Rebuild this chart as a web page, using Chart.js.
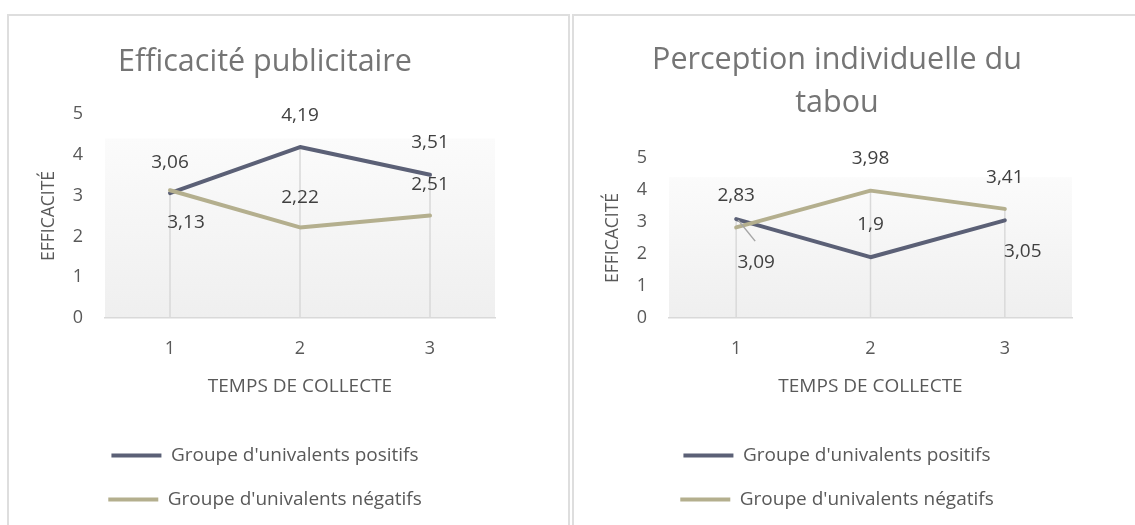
<!DOCTYPE html>
<html lang="fr">
<head>
<meta charset="utf-8">
<title>Efficacité publicitaire et perception du tabou</title>
<script src="https://cdn.jsdelivr.net/npm/chart.js@4.4.1/dist/chart.umd.min.js"></script>
<style>
  html, body { margin: 0; padding: 0; background: #fff; overflow: hidden; }
  body { width: 1135px; height: 525px; position: relative; }
  .cadre { position: absolute; top: 14px; height: 540px; border: 2px solid #dedede; box-sizing: border-box; }
  #cadre1 { left: 7px; width: 563px; }
  #cadre2 { left: 572px; width: 600px; }
  canvas { position: absolute; top: 15px; }
  #graphPub { left: 8px; }
  #graphTabou { left: 572px; }
</style>
</head>
<body>
<div class="cadre" id="cadre1"></div>
<div class="cadre" id="cadre2"></div>
<canvas id="graphPub" width="514" height="504"></canvas>
<canvas id="graphTabou" width="530" height="504"></canvas>
<script>
// Temps de collecte et bornes de l'axe
var categories = ['1', '2', '3'];
var yTicks = [0, 1, 2, 3, 4, 5];

// Efficacité publicitaire
var pubPositifs = [3.06, 4.19, 3.51];
var pubNegatifs = [3.13, 2.22, 2.51];

// Perception individuelle du tabou
var tabouPositifs = [3.09, 1.9, 3.05];
var tabouNegatifs = [2.83, 3.98, 3.41];

var nomPositifs = "Groupe d'univalents positifs";
var nomNegatifs = "Groupe d'univalents négatifs";

Chart.defaults.font.family = '"Open Sans", Lato, sans-serif';

// fond dégradé de la zone de tracé
var fondZone = {
    id: 'fondZone',
    beforeDraw: function (chart) {
        var a = chart.chartArea, ctx = chart.ctx;
        var haut = a.top + (a.bottom - a.top) * 0.12;
        var g = ctx.createLinearGradient(0, haut, 0, a.bottom);
        g.addColorStop(0, '#fbfbfb');
        g.addColorStop(1, '#efefef');
        ctx.save();
        ctx.fillStyle = g;
        ctx.fillRect(a.left, haut, a.right - a.left, a.bottom - haut);
        ctx.restore();
    }
};

// lignes de projection : du point le plus haut jusqu'à l'axe
var lignesProjection = {
    id: 'lignesProjection',
    beforeDatasetsDraw: function (chart) {
        var ctx = chart.ctx, sx = chart.scales.x, sy = chart.scales.y;
        ctx.save();
        ctx.strokeStyle = '#d9d9d9';
        ctx.lineWidth = 1.5;
        chart.data.labels.forEach(function (lab, i) {
            var haut = Math.max.apply(null, chart.data.datasets.map(function (d) { return d.data[i]; }));
            var px = sx.getPixelForValue(i);
            ctx.beginPath();
            ctx.moveTo(px, sy.getPixelForValue(haut));
            ctx.lineTo(px, sy.bottom);
            ctx.stroke();
        });
        ctx.restore();
    }
};

// étiquettes de valeurs (virgule décimale)
var etiquettes = {
    id: 'etiquettes',
    afterDatasetsDraw: function (chart, args, opts) {
        var ctx = chart.ctx;
        ctx.save();
        ctx.font = '19px "Open Sans", Lato, sans-serif';
        ctx.textAlign = 'center';
        ctx.textBaseline = 'middle';
        chart.data.datasets.forEach(function (ds, di) {
            var meta = chart.getDatasetMeta(di);
            meta.data.forEach(function (pt, i) {
                var p = opts.placement[di][i];
                var tx = pt.x + (p.dx || 0), ty = pt.y + p.dy;
                if (p.renvoi) {
                    ctx.strokeStyle = '#a6a6a6';
                    ctx.lineWidth = 1.5;
                    ctx.beginPath();
                    ctx.moveTo(pt.x + 2, pt.y + 1);
                    ctx.lineTo(tx - 1, ty - 21);
                    ctx.stroke();
                }
                ctx.fillStyle = '#404040';
                ctx.fillText(String(ds.data[i]).replace('.', ','), tx, ty);
            });
        });
        ctx.restore();
    }
};

function creerGraphique(id, titre, titrePad, positifs, negatifs, placement, margeDroite) {
    var ctx = document.getElementById(id).getContext('2d');
    return new Chart(ctx, {
        type: 'line',
        data: {
            labels: categories,
            datasets: [
                {
                    label: nomPositifs,
                    data: positifs,
                    borderColor: '#5b6076',
                    backgroundColor: '#5b6076',
                    borderWidth: 4,
                    borderCapStyle: 'round',
                    borderJoinStyle: 'round',
                    pointRadius: 0,
                    order: 1
                },
                {
                    label: nomNegatifs,
                    data: negatifs,
                    borderColor: '#b4af8e',
                    backgroundColor: '#b4af8e',
                    borderWidth: 4,
                    borderCapStyle: 'round',
                    borderJoinStyle: 'round',
                    pointRadius: 0,
                    order: 0
                }
            ]
        },
        options: {
            responsive: false,
            animation: false,
            layout: { padding: 0 },
            scales: {
                x: {
                    offset: true,
                    grid: { display: false, drawTicks: false },
                    border: { display: true, color: '#d9d9d9', width: 1.5 },
                    ticks: { color: '#595959', font: { size: 18 }, padding: 20 },
                    title: {
                        display: true,
                        text: 'TEMPS DE COLLECTE',
                        color: '#595959',
                        font: { size: 19 },
                        padding: { top: 0, bottom: 23 }
                    },
                    afterFit: function (s) { s.height = 103; }
                },
                y: {
                    min: yTicks[0],
                    max: yTicks[yTicks.length - 1],
                    grid: { display: false, drawTicks: false },
                    border: { display: false },
                    ticks: { stepSize: 1, color: '#595959', font: { size: 18 }, padding: 22 },
                    title: {
                        display: true,
                        text: 'EFFICACITÉ',
                        color: '#595959',
                        font: { size: 17.5 },
                        padding: { top: 31, bottom: 0 }
                    },
                    afterFit: function (s) { s.width = 97; }
                },
                marge: {
                    type: 'linear',
                    position: 'right',
                    display: true,
                    grid: { display: false, drawTicks: false },
                    border: { display: false },
                    ticks: { display: false },
                    afterFit: function (s) { s.width = margeDroite; }
                }
            },
            plugins: {
                title: {
                    display: true,
                    text: titre,
                    color: '#757575',
                    font: { size: 30.5, weight: 'normal', lineHeight: '43px' },
                    padding: titrePad
                },
                legend: {
                    position: 'bottom',
                    labels: {
                        usePointStyle: true,
                        pointStyle: 'line',
                        pointStyleWidth: 50,
                        color: '#595959',
                        font: { size: 19 },
                        padding: 25,
                        sort: function (a, b) { return a.datasetIndex - b.datasetIndex; }
                    }
                },
                tooltip: { enabled: false },
                etiquettes: { placement: placement }
            }
        },
        plugins: [fondZone, lignesProjection, etiquettes]
    });
}

creerGraphique('graphPub', 'Efficacité publicitaire', { top: 25.5, bottom: 30.5 },
    pubPositifs, pubNegatifs,
    [
        [{ dy: -31 }, { dy: -31 }, { dy: -32 }],
        [{ dx: 16, dy: 32 }, { dy: -30 }, { dy: -31 }]
    ], 27);

creerGraphique('graphTabou', ['Perception individuelle du', 'tabou'], { top: 23.5, bottom: 33.5 },
    tabouPositifs, tabouNegatifs,
    [
        [{ dx: 20, dy: 43, renvoi: true }, { dy: -33 }, { dx: 18, dy: 31 }],
        [{ dy: -32 }, { dy: -32 }, { dy: -31 }]
    ], 30);
</script>
</body>
</html>
